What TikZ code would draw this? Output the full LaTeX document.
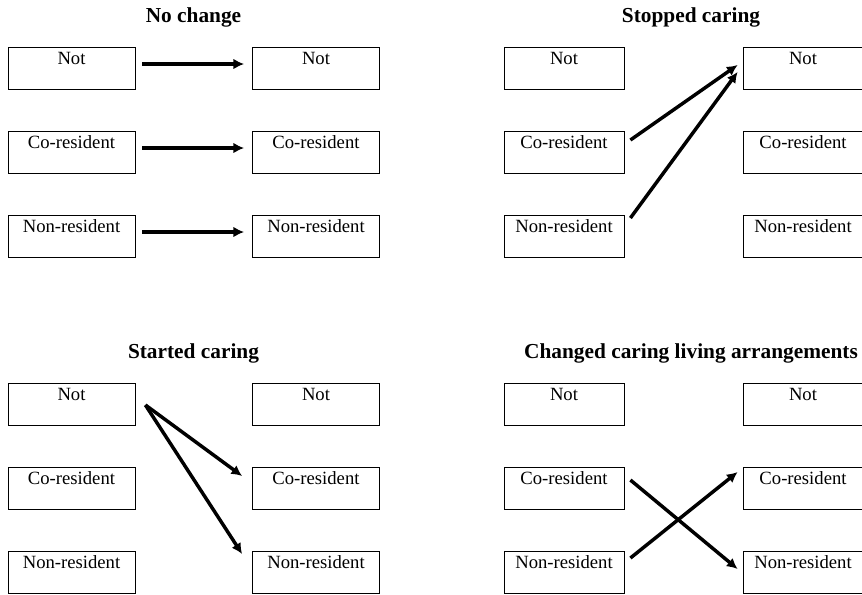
\documentclass[tikz,border=0pt]{standalone}
\usepackage{fontspec}
\setmainfont{Liberation Serif}
\usetikzlibrary{arrows.meta}

\begin{document}
\begin{tikzpicture}[x=0.75pt, y=-0.75pt, >={Latex[length=8pt, width=8pt]},
  every box/.style={draw, line width=0.6pt, rectangle, inner xsep=0pt, inner ysep=0pt,
    text height=13pt, text depth=18.5pt, minimum height=31.5pt,
    font=\fontsize{14}{16}\selectfont},
  panel title/.style={anchor=base, font=\fontsize{16}{18}\selectfont\bfseries},
  move/.style={->, line width=2.6pt}]

\useasboundingbox (0,0) rectangle (862,594);

\foreach \p/\lx/\rx/\dy/\w in {tl/71.5/316/0/95.25pt, tr/564/803/0/90pt,
                               bl/71.5/316/336/95.25pt, br/564/803/336/90pt}
  \foreach \l [count=\i] in {Not, Co-resident, Non-resident} {
    \node [every box, minimum width=\w] (\p-l\i) at (\lx,{68+84*(\i-1)+\dy}) {\l};
    \node [every box, minimum width=\w] (\p-r\i) at (\rx,{68+84*(\i-1)+\dy}) {\l};
  }

\node [panel title] (tl-title) at (193.5,22) {No change};
\node [panel title] (tr-title) at (691,22) {Stopped caring};
\node [panel title] (bl-title) at (193.5,358) {Started caring};
\node [panel title] (br-title) at (691,358) {Changed caring living arrangements};

% no change
\foreach \i in {1,...,3}
  \draw [move] ([shift={(7,-4)}]tl-l\i.east) -- ([shift={(-8,-4)}]tl-r\i.west);

% stopped caring
\draw [move] ([shift={(6,-12)}]tr-l2.east) -- ([shift={(-5,-3)}]tr-r1.west);
\draw [move] ([shift={(6,-18)}]tr-l3.east) -- ([shift={(-5,4)}]tr-r1.west);

% started caring
\draw [move] ([shift={(10,1)}]bl-l1.east) -- ([shift={(-10,-12)}]bl-r2.west);
\draw [move] ([shift={(10,1)}]bl-l1.east) -- ([shift={(-10,-18)}]bl-r3.west);

% changed arrangements
\draw [move] ([shift={(6,-8)}]br-l2.east) -- ([shift={(-5,-3)}]br-r3.west);
\draw [move] ([shift={(6,-14)}]br-l3.east) -- ([shift={(-5,-16)}]br-r2.west);

\end{tikzpicture}
\end{document}
